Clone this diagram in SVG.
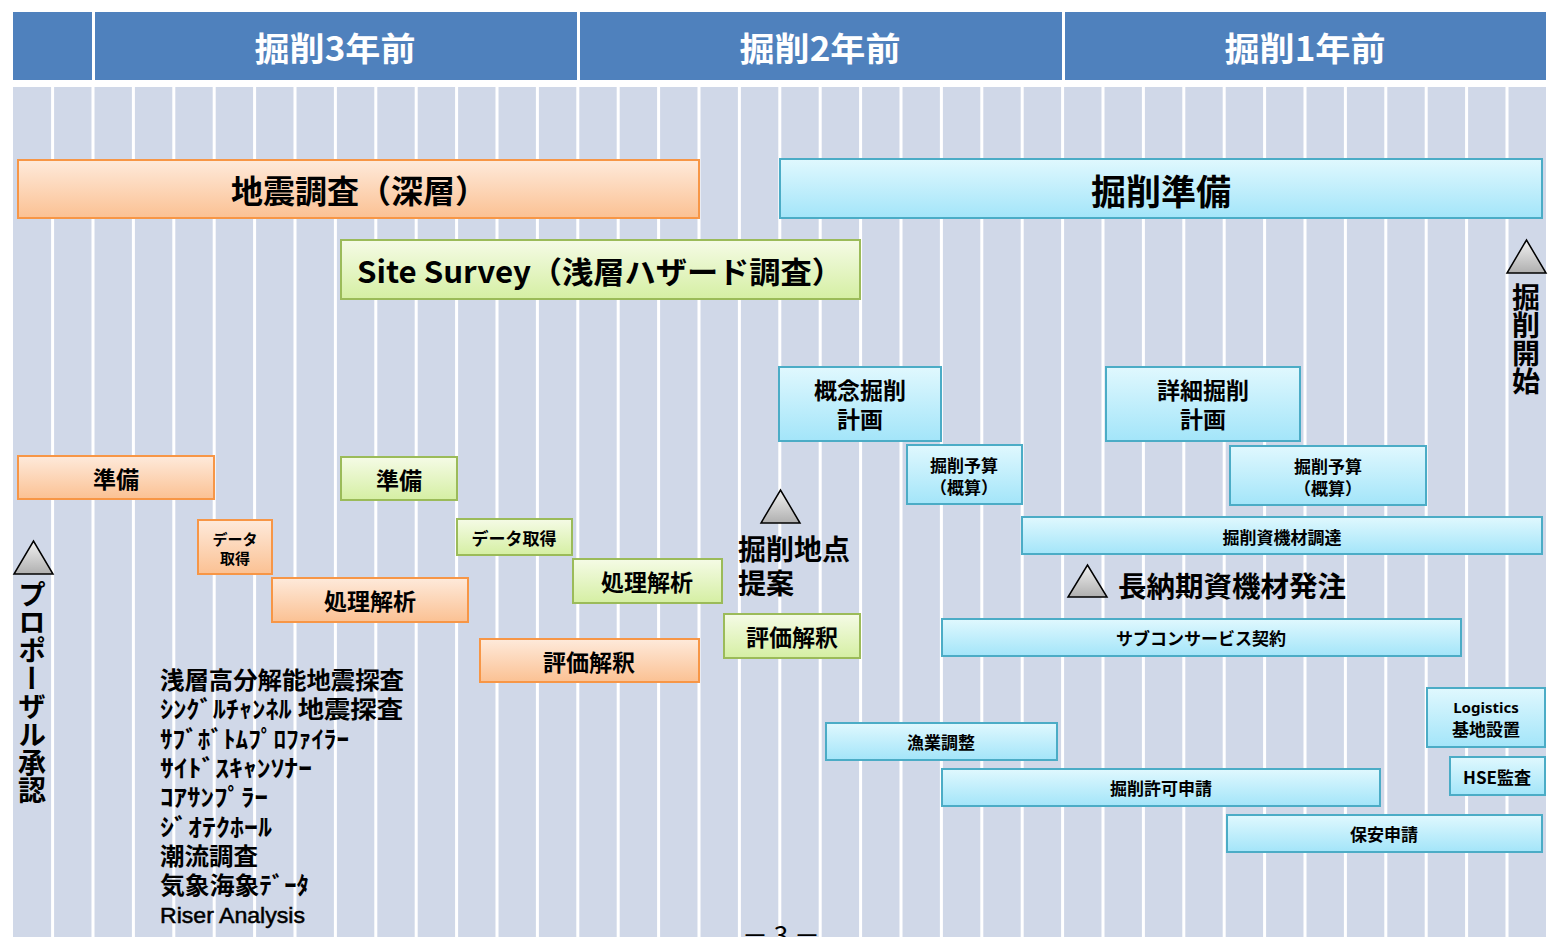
<svg xmlns="http://www.w3.org/2000/svg" width="1554" height="937" viewBox="0 0 1554 937">
<defs>
<linearGradient id="gOr" x1="0" y1="0" x2="0" y2="1"><stop offset="0" stop-color="#FEEADB"/><stop offset="1" stop-color="#FBC193"/></linearGradient>
<linearGradient id="gGr" x1="0" y1="0" x2="0" y2="1"><stop offset="0" stop-color="#F5FBE6"/><stop offset="1" stop-color="#D5EFA3"/></linearGradient>
<linearGradient id="gBl" x1="0" y1="0" x2="0" y2="1"><stop offset="0" stop-color="#E0F8FE"/><stop offset="1" stop-color="#A3E5F9"/></linearGradient>
<linearGradient id="gTri" x1="0" y1="0" x2="0" y2="1"><stop offset="0" stop-color="#F2F2F2"/><stop offset="1" stop-color="#AFAFAF"/></linearGradient>
<style>
.hdr{fill:#4F81BD}
.ht{fill:#FFFFFF;font-family:"Noto Sans CJK JP",sans-serif;font-weight:bold;font-size:33px;text-anchor:middle;dominant-baseline:central}
.or{fill:url(#gOr);stroke:#F79646;stroke-width:2}
.gr{fill:url(#gGr);stroke:#9BBB59;stroke-width:2}
.bl{fill:url(#gBl);stroke:#4BACC6;stroke-width:2}
.tri{fill:url(#gTri);stroke:#000;stroke-width:1.5;stroke-linejoin:miter}
.t{fill:#000;font-family:"Noto Sans CJK JP",sans-serif;font-weight:bold;text-anchor:middle;dominant-baseline:central}
.l{fill:#000;font-family:"Noto Sans CJK JP",sans-serif;font-weight:bold;font-size:24px}
.m{fill:#000;font-family:"Noto Sans CJK JP",sans-serif;font-weight:bold;font-size:28px}
.v{fill:#000;font-family:"Noto Sans CJK JP",sans-serif;font-weight:bold;font-size:28px;writing-mode:vertical-rl;text-anchor:start}
</style>
</defs>

<g id="background">
<rect x="13" y="87" width="1533" height="850" fill="#D0D8E8"/>
<path d="M52.6 87V937M93 87V937M133.4 87V937M173.8 87V937M214.2 87V937M254.6 87V937M295 87V937M335.4 87V937M375.8 87V937M416.2 87V937M456.6 87V937M497 87V937M537.4 87V937M577.8 87V937M618.2 87V937M658.6 87V937M699 87V937M739.4 87V937M779.8 87V937M820.2 87V937M860.6 87V937M901 87V937M941.4 87V937M981.8 87V937M1022.2 87V937M1062.6 87V937M1103 87V937M1143.4 87V937M1183.8 87V937M1224.2 87V937M1264.6 87V937M1305 87V937M1345.4 87V937M1385.8 87V937M1426.2 87V937M1466.6 87V937M1507 87V937" stroke="#FFFFFF" stroke-width="3" fill="none"/>
</g>

<g id="header">
<rect class="hdr" x="13" y="12" width="79" height="68"/>
<rect class="hdr" x="95" y="12" width="482" height="68"/>
<rect class="hdr" x="580" y="12" width="482" height="68"/>
<rect class="hdr" x="1065" y="12" width="481" height="68"/>
<text class="ht" x="335" y="47" textLength="161" lengthAdjust="spacingAndGlyphs">掘削3年前</text>
<text class="ht" x="820" y="47" textLength="161" lengthAdjust="spacingAndGlyphs">掘削2年前</text>
<text class="ht" x="1305" y="47" textLength="161" lengthAdjust="spacingAndGlyphs">掘削1年前</text>
</g>

<g id="seismic-deep">
<rect class="or" x="18" y="160" width="681" height="58"/>
<text class="t" x="359" y="189" font-size="32" textLength="256" lengthAdjust="spacingAndGlyphs">地震調査（深層）</text>
</g>
<g id="drilling-prep">
<rect class="bl" x="780" y="159" width="762" height="59"/>
<text class="t" x="1161" y="189" font-size="35">掘削準備</text>
</g>
<g id="site-survey">
<rect class="gr" x="341" y="240" width="519" height="59"/>
<text class="t" x="600" y="270" font-size="30" textLength="486" lengthAdjust="spacingAndGlyphs">Site Survey（浅層ハザード調査）</text>
</g>

<g id="or-prep">
<rect class="or" x="18" y="456" width="196" height="43"/>
<text class="t" x="116" y="478" font-size="23">準備</text>
</g>
<g id="or-data">
<rect class="or" x="198" y="520" width="74" height="54"/>
<text class="t" x="235" y="538" font-size="15">データ</text>
<text class="t" x="235" y="557" font-size="15">取得</text>
</g>
<g id="or-proc">
<rect class="or" x="272" y="578" width="196" height="44"/>
<text class="t" x="370" y="600" font-size="23">処理解析</text>
</g>
<g id="or-eval">
<rect class="or" x="480" y="639" width="219" height="43"/>
<text class="t" x="589" y="661" font-size="23">評価解釈</text>
</g>

<g id="gr-prep">
<rect class="gr" x="341" y="457" width="116" height="43"/>
<text class="t" x="399" y="479" font-size="23">準備</text>
</g>
<g id="gr-data">
<rect class="gr" x="457" y="519" width="115" height="36"/>
<text class="t" x="514" y="537" font-size="17">データ取得</text>
</g>
<g id="gr-proc">
<rect class="gr" x="573" y="559" width="149" height="44"/>
<text class="t" x="647" y="581" font-size="23">処理解析</text>
</g>
<g id="gr-eval">
<rect class="gr" x="724" y="614" width="136" height="44"/>
<text class="t" x="792" y="636" font-size="23">評価解釈</text>
</g>

<g id="concept-plan">
<rect class="bl" x="779" y="367" width="162" height="74"/>
<text class="t" x="860" y="389" font-size="23">概念掘削</text>
<text class="t" x="860" y="418" font-size="23">計画</text>
</g>
<g id="budget1">
<rect class="bl" x="907" y="445" width="115" height="59"/>
<text class="t" x="964" y="464" font-size="17">掘削予算</text>
<text class="t" x="964" y="486" font-size="17">（概算）</text>
</g>
<g id="detail-plan">
<rect class="bl" x="1106" y="367" width="194" height="74"/>
<text class="t" x="1203" y="389" font-size="23">詳細掘削</text>
<text class="t" x="1203" y="418" font-size="23">計画</text>
</g>
<g id="budget2">
<rect class="bl" x="1230" y="446" width="196" height="59"/>
<text class="t" x="1328" y="465" font-size="17">掘削予算</text>
<text class="t" x="1328" y="487" font-size="17">（概算）</text>
</g>
<g id="procurement">
<rect class="bl" x="1022" y="517" width="520" height="37"/>
<text class="t" x="1282" y="536" font-size="17">掘削資機材調達</text>
</g>
<g id="subcon">
<rect class="bl" x="942" y="619" width="519" height="37"/>
<text class="t" x="1201" y="637" font-size="17">サブコンサービス契約</text>
</g>
<g id="fishery">
<rect class="bl" x="826" y="723" width="231" height="37"/>
<text class="t" x="941" y="741" font-size="17">漁業調整</text>
</g>
<g id="permit">
<rect class="bl" x="942" y="769" width="438" height="37"/>
<text class="t" x="1161" y="787" font-size="17">掘削許可申請</text>
</g>
<g id="safety">
<rect class="bl" x="1227" y="815" width="315" height="37"/>
<text class="t" x="1384" y="833" font-size="17">保安申請</text>
</g>
<g id="logistics">
<rect class="bl" x="1427" y="688" width="118" height="59"/>
<text class="t" x="1486" y="707" font-size="15" font-weight="600" style="font-family:'Noto Sans','Noto Sans CJK JP',sans-serif">Logistics</text>
<text class="t" x="1486" y="728" font-size="17">基地設置</text>
</g>
<g id="hse">
<rect class="bl" x="1450" y="757" width="95" height="38"/>
<text class="t" x="1497" y="776" font-size="17">HSE監査</text>
</g>

<g id="ms-proposal">
<polygon class="tri" points="14,574 53,574 33.5,541"/>
<text class="v" x="32" y="580">プロポーザル承認</text>
</g>
<g id="ms-site">
<polygon class="tri" points="761,523 800,523 780.5,490"/>
<text class="m" x="738" y="560">掘削地点</text>
<text class="m" x="738" y="594">提案</text>
</g>
<g id="ms-longlead">
<polygon class="tri" points="1068,597 1107,597 1087.5,565"/>
<text class="m" x="1118" y="597" textLength="228" lengthAdjust="spacingAndGlyphs">長納期資機材発注</text>
</g>
<g id="ms-spud">
<polygon class="tri" points="1507,273 1546,273 1526.5,240"/>
<text class="v" x="1526" y="283">掘削開始</text>
</g>

<g id="survey-list">
<text class="l" x="160" y="689" textLength="244" lengthAdjust="spacingAndGlyphs">浅層高分解能地震探査</text>
<text class="l" x="160" y="718" textLength="243" lengthAdjust="spacingAndGlyphs">ｼﾝｸﾞﾙﾁｬﾝﾈﾙ 地震探査</text>
<text class="l" x="160" y="748" textLength="189" lengthAdjust="spacingAndGlyphs">ｻﾌﾞﾎﾞﾄﾑﾌﾟﾛﾌｧｲﾗｰ</text>
<text class="l" x="160" y="777" textLength="152" lengthAdjust="spacingAndGlyphs">ｻｲﾄﾞｽｷｬﾝｿﾅｰ</text>
<text class="l" x="160" y="806" textLength="108" lengthAdjust="spacingAndGlyphs">ｺｱｻﾝﾌﾟﾗｰ</text>
<text class="l" x="160" y="836" textLength="112" lengthAdjust="spacingAndGlyphs">ｼﾞｵﾃｸﾎｰﾙ</text>
<text class="l" x="160" y="865" textLength="98" lengthAdjust="spacingAndGlyphs">潮流調査</text>
<text class="l" x="160" y="894" textLength="149" lengthAdjust="spacingAndGlyphs">気象海象ﾃﾞｰﾀ</text>
<text x="160" y="923" font-family="'Liberation Sans',Arial,sans-serif" font-size="22" fill="#000" stroke="#000" stroke-width="0.5" textLength="145" lengthAdjust="spacingAndGlyphs">Riser Analysis</text>
</g>

<g id="page-number">
<text x="781" y="945" font-family="'Noto Sans CJK JP',sans-serif" font-size="26" text-anchor="middle" fill="#000">－ 3 －</text>
</g>
</svg>
